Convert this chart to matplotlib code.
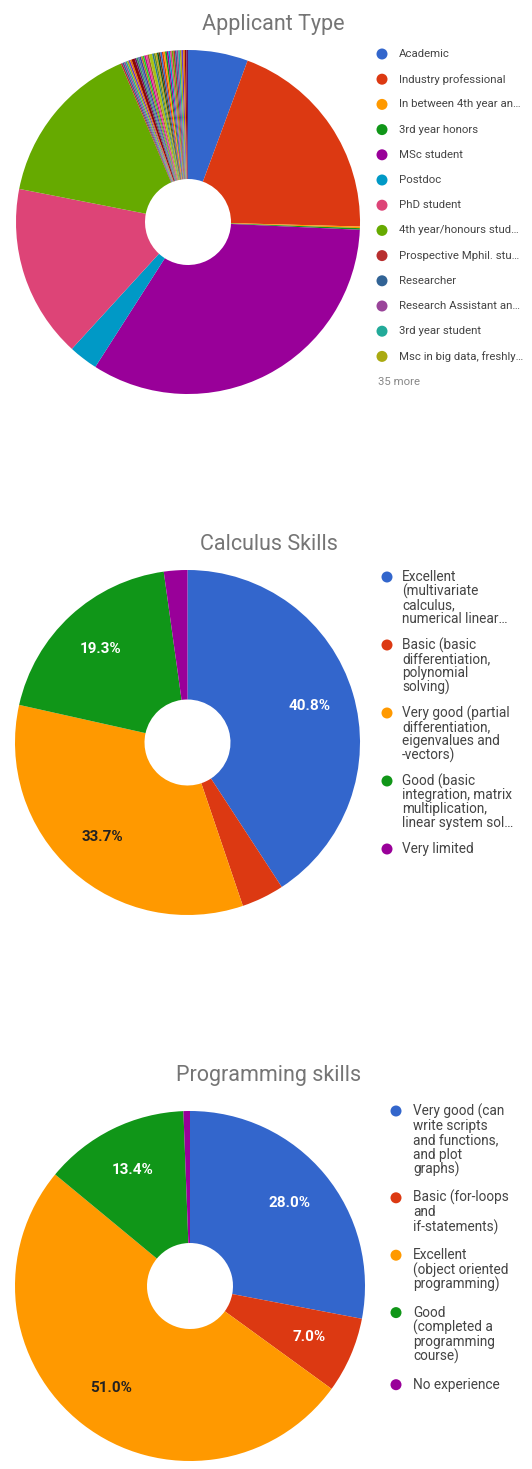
import matplotlib
matplotlib.use("Agg")
import matplotlib.pyplot as plt
from matplotlib.patches import Circle

plt.rcParams["font.family"] = ["Roboto", "DejaVu Sans"]

# Google Charts default palette (cycles after 31 entries)
PALETTE = ["#3366cc", "#dc3912", "#ff9900", "#109618", "#990099", "#0099c6",
           "#dd4477", "#66aa00", "#b82e2e", "#316395", "#994499", "#22aa99",
           "#aaaa11", "#6633cc", "#e67300", "#8b0707", "#651067", "#329262",
           "#5574a6", "#3b3eac", "#b77322", "#16d620", "#b91383", "#f4359e",
           "#9c5935", "#a9c413", "#2a778d", "#668d1c", "#bea413", "#0c5922",
           "#743411"]

TITLE_C = "#757575"
TEXT_C = "#444444"

# --- Applicant Type (counts) ---
applicant_labels = ["Academic", "Industry professional", "In between 4th year an…",
                    "3rd year honors", "MSc student", "Postdoc", "PhD student",
                    "4th year/honours stud…", "Prospective Mphil. stu…",
                    "Researcher", "Research Assistant an…", "3rd year student",
                    "Msc in big data, freshly…"]
applicant_counts = [37, 130, 1, 1, 219, 18, 107, 102,
                    1, 1, 1, 1, 1]
# the 35 categories folded into "35 more"
applicant_other = [1, 1, 2, 1, 1, 1, 1, 1, 1, 1, 1, 1, 2, 1, 1, 1, 1, 1,
                   1, 1, 1, 1, 1, 1, 1, 1, 1, 1, 1, 1, 1, 1, 1, 1, 1]
applicant_more = "35 more"

# --- Calculus Skills (%) ---
calc_labels = ["Excellent\n(multivariate\ncalculus,\nnumerical linear…",
               "Basic (basic\ndifferentiation,\npolynomial\nsolving)",
               "Very good (partial\ndifferentiation,\neigenvalues and\n-vectors)",
               "Good (basic\nintegration, matrix\nmultiplication,\nlinear system sol…",
               "Very limited"]
calc_pct = [40.8, 4.0, 33.7, 19.3, 2.2]

# --- Programming skills (%) ---
prog_labels = ["Very good (can\nwrite scripts\nand functions,\nand plot\ngraphs)",
               "Basic (for-loops\nand\nif-statements)",
               "Excellent\n(object oriented\nprogramming)",
               "Good\n(completed a\nprogramming\ncourse)",
               "No experience"]
prog_pct = [28.0, 7.0, 51.0, 13.4, 0.6]

W, H = 532, 1469
fig = plt.figure(figsize=(W / 100, H / 100), dpi=100)
ax = fig.add_axes([0, 0, 1, 1])

HOLE = 43


def donut(values, center, radius, pct_labels=False):
    colors = [PALETTE[i % len(PALETTE)] for i in range(len(values))]
    kw = dict(colors=colors, center=center, radius=radius, startangle=-90,
              counterclock=True,
              wedgeprops=dict(width=radius - HOLE, linewidth=0))
    if pct_labels:
        kw["autopct"] = lambda p: f"{p:.1f}%" if p >= 5 else ""
        kw["pctdistance"] = 0.74
    res = ax.pie(values, **kw)
    if pct_labels:
        for i, t in enumerate(res[2]):
            dark = colors[i] == "#ff9900"
            t.set_color("#222222" if dark else "white")
            t.set_fontsize(11)
            t.set_fontweight("bold")
    return colors


def legend(labels, colors, x_dot, x_text, y0, size, step, gap, dot_r=5.5):
    y = y0
    for lab, c in zip(labels, colors):
        ax.add_patch(Circle((x_dot, y), dot_r, color=c, lw=0))
        lines = lab.split("\n")
        for k, ln in enumerate(lines):
            ax.text(x_text, y + k * step, ln, fontsize=size, color=TEXT_C,
                    va="center", ha="left")
        y += (len(lines) - 1) * step + gap
    return y


# Applicant Type
app_vals = applicant_counts + applicant_other
app_cols = donut(app_vals, (188, 222), 172)
ax.text(273, 24, "Applicant Type", fontsize=15.5, color=TITLE_C,
        ha="center", va="center")
y_end = legend(applicant_labels, app_cols, 382, 399, 54, 8.2, 14, 25.2)
ax.text(378, y_end, applicant_more, fontsize=8.2, color="#888888",
        ha="left", va="center")

# Calculus Skills
calc_cols = donut(calc_pct, (187.5, 742.5), 172.5, pct_labels=True)
ax.text(269, 544, "Calculus Skills", fontsize=15.5, color=TITLE_C,
        ha="center", va="center")
legend(calc_labels, calc_cols, 387, 402, 577, 9.8, 14, 26)

# Programming skills
prog_cols = donut(prog_pct, (190, 1286), 175, pct_labels=True)
ax.text(269, 1075, "Programming skills", fontsize=15.5, color=TITLE_C,
        ha="center", va="center")
legend(prog_labels, prog_cols, 396, 413, 1111, 9.8, 14.7, 28)

ax.set_xlim(0, W)
ax.set_ylim(H, 0)
ax.set_aspect("auto")
ax.axis("off")

fig.savefig("out.png", dpi=100)
